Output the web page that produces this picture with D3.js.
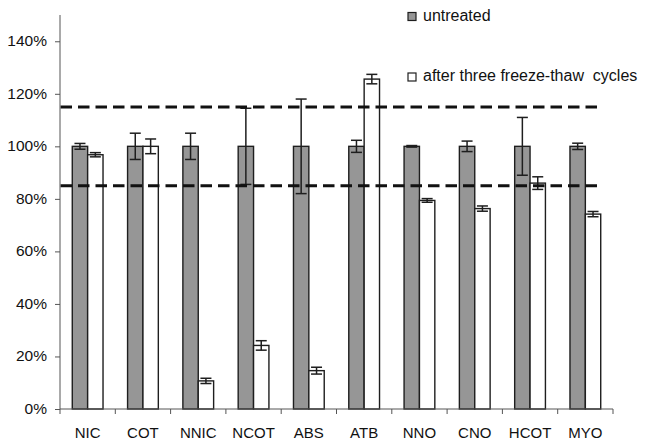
<!DOCTYPE html>
<html>
<head>
<meta charset="utf-8">
<script src="https://cdn.jsdelivr.net/npm/d3@7"></script>
<style>
  html, body { margin: 0; padding: 0; background: #fff; }
  svg { display: block; font-family: "Liberation Sans", Arial, sans-serif; }
</style>
</head>
<body>
<svg id="chart" width="646" height="442"></svg>
<script>
const categories = ["NIC", "COT", "NNIC", "NCOT", "ABS", "ATB", "NNO", "CNO", "HCOT", "MYO"];
const seriesNames = ["untreated", "after three freeze-thaw  cycles"];
const untreated = [100, 100, 100, 100, 100, 100, 100, 100, 100, 100];
const untreatedErr = [1.1, 5, 5, 14.5, 18, 2.3, 0.3, 2, 11, 1.2];
const afterCycles = [96.8, 100, 10.7, 24.2, 14.6, 125.6, 79.4, 76.3, 86, 74.2];
const afterErr = [0.8, 2.8, 1, 1.8, 1.3, 1.8, 0.7, 1, 2.4, 1];
const yTicks = [0, 20, 40, 60, 80, 100, 120, 140];
const thresholds = [115, 85];

(function () {
const svg = d3.select("#chart");
const mLeft = 60, mRight = 613, mTop = 15, mBottom = 409;

const x = d3.scaleBand().domain(categories).range([mLeft, mRight]).padding(0);
const y = d3.scaleLinear().domain([0, 150]).range([mBottom, mTop]);
const inner = d3.scaleBand().domain([0, 1])
  .range([x.bandwidth() * 0.222, x.bandwidth() * 0.778]).padding(0);

const rows = categories.map((c, i) => [
  { c, s: 0, v: untreated[i], e: untreatedErr[i] },
  { c, s: 1, v: afterCycles[i], e: afterErr[i] }
]).flat();

const fills = ["#969696", "#ffffff"];
const stroke = "#1e1e1e";

// bars
svg.append("g").selectAll("rect").data(rows).join("rect")
  .attr("x", d => x(d.c) + inner(d.s))
  .attr("y", d => y(d.v))
  .attr("width", inner.bandwidth())
  .attr("height", d => y(0) - y(d.v))
  .attr("fill", d => fills[d.s])
  .attr("stroke", stroke)
  .attr("stroke-width", 1.4);

// error bars
const capW = 11;
const eg = svg.append("g").attr("stroke", stroke).attr("stroke-width", 1.5);
rows.forEach(d => {
  const cx = x(d.c) + inner(d.s) + inner.bandwidth() / 2;
  eg.append("line").attr("x1", cx).attr("x2", cx)
    .attr("y1", y(d.v + d.e)).attr("y2", y(d.v - d.e));
  [d.v + d.e, d.v - d.e].forEach(v => {
    eg.append("line").attr("x1", cx - capW / 2).attr("x2", cx + capW / 2)
      .attr("y1", y(v)).attr("y2", y(v));
  });
});

// threshold dashed lines
svg.append("g").selectAll("line").data(thresholds).join("line")
  .attr("x1", mLeft + 0.5).attr("x2", 602)
  .attr("y1", d => y(d)).attr("y2", d => y(d))
  .attr("stroke", "#111")
  .attr("stroke-width", 3)
  .attr("stroke-dasharray", "11.5,6");

// y axis
const yAxis = d3.axisLeft(y).tickValues(yTicks).tickSize(5).tickPadding(8)
  .tickFormat(d => d + "%");
const yg = svg.append("g").attr("transform", `translate(${mLeft},0)`).call(yAxis);
yg.select(".domain").remove();
yg.append("line").attr("x1", 0).attr("x2", 0).attr("y1", mTop).attr("y2", mBottom)
  .attr("stroke", "#555");
yg.selectAll(".tick line").attr("stroke", "#555");
yg.selectAll(".tick text").attr("font-size", 15.5).attr("fill", "#111")
  .attr("font-family", "Liberation Sans, Arial, sans-serif").attr("dy", "0.28em");

// x axis
const xg = svg.append("g").attr("transform", `translate(0,${mBottom})`);
xg.append("line").attr("x1", mLeft).attr("x2", mRight).attr("y1", 0).attr("y2", 0)
  .attr("stroke", "#555");
const bounds = categories.map(c => x(c)).concat([mRight]);
xg.selectAll("line.bt").data(bounds).join("line").attr("class", "bt")
  .attr("x1", d => d).attr("x2", d => d).attr("y1", 0).attr("y2", 5)
  .attr("stroke", "#555");
xg.selectAll("text").data(categories).join("text")
  .attr("x", d => x(d) + x.bandwidth() / 2)
  .attr("y", 28.5)
  .attr("text-anchor", "middle")
  .attr("font-size", 15)
  .attr("fill", "#111")
  .text(d => d);

// legend
const legendY = [12.5, 73];
const lg = svg.append("g");
seriesNames.forEach((name, i) => {
  lg.append("rect").attr("x", 408).attr("y", legendY[i]).attr("width", 8).attr("height", 8)
    .attr("fill", fills[i]).attr("stroke", stroke).attr("stroke-width", 1.2);
  lg.append("text").attr("x", 423).attr("y", legendY[i] + 8.3)
    .attr("font-size", 16).attr("fill", "#111")
    .style("white-space", "pre")
    .text(name);
});
})();
</script>
</body>
</html>
